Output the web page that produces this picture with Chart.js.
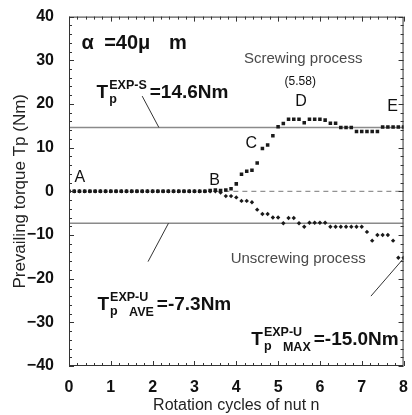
<!DOCTYPE html>
<html lang="en">
<head>
    <meta charset="UTF-8">
    <title>Prevailing torque vs rotation cycles</title>
    <script src="https://cdn.jsdelivr.net/npm/chart.js"></script>
    <style>
        html, body { margin: 0; padding: 0; background: #ffffff; }
        #wrap { width: 412px; height: 415px; }
    </style>
</head>
<body>
<div id="wrap"><canvas id="torqueChart" width="412" height="415"></canvas></div>
<script>
    // Rotation cycles of nut n (one reading every 1/8 turn)
    const rotation = [
        0, 0.125, 0.25, 0.375, 0.5, 0.625, 0.75, 0.875,
        1, 1.125, 1.25, 1.375, 1.5, 1.625, 1.75, 1.875,
        2, 2.125, 2.25, 2.375, 2.5, 2.625, 2.75, 2.875,
        3, 3.125, 3.25, 3.375, 3.5, 3.625, 3.75, 3.875,
        4, 4.125, 4.25, 4.375, 4.5, 4.625, 4.75, 4.875,
        5, 5.125, 5.25, 5.375, 5.5, 5.625, 5.75, 5.875,
        6, 6.125, 6.25, 6.375, 6.5, 6.625, 6.75, 6.875,
        7, 7.125, 7.25, 7.375, 7.5, 7.625, 7.75, 7.875,
        8
    ];
    // Prevailing torque Tp (Nm), screwing process
    const screwingTorque = [
        0, 0, 0, 0, 0, 0, 0, 0,
        0, 0, 0, 0, 0, 0, 0, 0,
        0, 0, 0, 0, 0, 0, 0, 0,
        0, 0, 0, 0.2, 0.3, 0.2, 0.3, 0.6,
        1.7, 3.9, 4.6, 4.8, 6.5, 9.8, 10.6, 12.7,
        14.8, 15.5, 16.5, 16.5, 16.5, 15.7, 16.5, 16.5,
        16.5, 16.3, 15.6, 15.6, 14.6, 14.6, 14.6, 13.7,
        13.7, 13.7, 13.7, 13.7, 14.7, 14.7, 14.7, 14.7,
        14.7
    ];
    // Prevailing torque Tp (Nm), unscrewing process
    const unscrewingTorque = [
        0, 0, 0, 0, 0, 0, 0, 0,
        0, 0, 0, 0, 0, 0, 0, 0,
        0, 0, 0, 0, 0, 0, 0, 0,
        0, 0, 0, 0, 0, -0.3, -1.1, -1.1,
        -1.4, -2.2, -2.2, -2.5, -4.2, -5.2, -5.2, -6.0,
        -6.0, -7.3, -6.1, -6.1, -7.3, -8.1, -7.2, -7.2,
        -7.2, -7.2, -8.1, -8.1, -8.1, -8.1, -8.1, -8.1,
        -8.1, -9.3, -11.3, -10.0, -10.0, -10.0, -11.3, -15.2,
        -15.2
    ];
    const screwingLevel = 14.6;     // T_p^EXP-S
    const unscrewingAverage = -7.3; // T_p^EXP-U AVE
    const xRange = [0, 8];
    const yRange = [-40, 40];

    const FONT = '"Liberation Sans", Arial, sans-serif';

    function toPoints(xs, ys) {
        return xs.map((x, i) => ({ x: x, y: ys[i] }));
    }

    // frame with inward tick marks on all four sides
    const framePlugin = {
        id: 'frame',
        afterDatasetsDraw(chart) {
            const ctx = chart.ctx;
            const a = chart.chartArea;
            const xs = chart.scales.x, ys = chart.scales.y;
            ctx.save();
            ctx.strokeStyle = '#333';
            ctx.lineWidth = 1;
            ctx.strokeRect(a.left + 0.5, a.top + 0.5, a.right - a.left - 1, a.bottom - a.top - 1);
            ctx.beginPath();
            for (let i = 0; i <= 40; i++) {
                const px = Math.round(xs.getPixelForValue(i * 0.2)) + 0.5;
                const len = i % 5 === 0 ? 5 : 3;
                ctx.moveTo(px, a.bottom); ctx.lineTo(px, a.bottom - len);
                ctx.moveTo(px, a.top); ctx.lineTo(px, a.top + len);
            }
            for (let j = 0; j <= 40; j++) {
                const py = Math.round(ys.getPixelForValue(-40 + j * 2)) + 0.5;
                const len = j % 5 === 0 ? 5 : 3;
                ctx.moveTo(a.left, py); ctx.lineTo(a.left + len, py);
                ctx.moveTo(a.right, py); ctx.lineTo(a.right - len, py);
            }
            ctx.stroke();
            ctx.restore();
        }
    };

    function torqueLabel(ctx, x, y, sup, sub2, rest) {
        const big = 'bold 19px ' + FONT, small = 'bold 12.5px ' + FONT;
        ctx.font = big;
        ctx.fillText('T', x, y);
        const cx = x + ctx.measureText('T').width + 1;
        ctx.font = small;
        ctx.fillText(sup, cx, y - 9);
        ctx.fillText('p', cx, y + 5);
        let end = cx + ctx.measureText(sup).width;
        if (sub2) {
            const sx = cx + 19;
            ctx.fillText(sub2, sx, y + 6);
            end = Math.max(end, sx + ctx.measureText(sub2).width);
        }
        ctx.font = big;
        ctx.fillText(rest, end + 3, y);
    }

    const labelPlugin = {
        id: 'labels',
        afterDatasetsDraw(chart) {
            const ctx = chart.ctx;
            const X = v => chart.scales.x.getPixelForValue(v);
            const Y = v => chart.scales.y.getPixelForValue(v);
            ctx.save();
            ctx.fillStyle = '#111';
            ctx.textAlign = 'left';
            ctx.textBaseline = 'middle';
            ctx.font = 'bold 20px ' + FONT;
            // wide spacing as in the original (full-width glyphs)
            ctx.fillText('α', X(0.3), Y(33.8));
            ctx.fillText('=40μ', X(0.84), Y(33.8));
            ctx.fillText('m', X(2.39), Y(33.8));

            ctx.textAlign = 'center';
            ctx.font = '15px ' + FONT;
            ctx.fillStyle = '#4a4a4a';
            ctx.fillText('Screwing process', X(5.6), Y(30.4));
            ctx.fillText('Unscrewing process', X(5.48), Y(-15.4));
            ctx.fillStyle = '#111';
            ctx.font = '12px ' + FONT;
            ctx.fillText('(5.58)', X(5.53), Y(25.2));

            ctx.font = '16px ' + FONT;
            [['A', 0.26, 3.1], ['B', 3.48, 2.4], ['C', 4.36, 11.0], ['D', 5.55, 20.6], ['E', 7.74, 19.5]]
                .forEach(p => ctx.fillText(p[0], X(p[1]), Y(p[2])));

            // leader lines
            ctx.strokeStyle = '#333';
            ctx.lineWidth = 1;
            ctx.beginPath();
            [[1.75, 21.8, 2.15, screwingLevel], [2.38, unscrewingAverage, 1.89, -16.1], [7.98, -15.6, 7.22, -24.0]]
                .forEach(l => { ctx.moveTo(X(l[0]), Y(l[1])); ctx.lineTo(X(l[2]), Y(l[3])); });
            ctx.stroke();

            ctx.textAlign = 'left';
            ctx.textBaseline = 'alphabetic';
            torqueLabel(ctx, X(0.66), Y(21.3), 'EXP-S', null, '=14.6Nm');
            torqueLabel(ctx, X(0.68), Y(-27.2), 'EXP-U', 'AVE', '=-7.3Nm');
            torqueLabel(ctx, X(4.36), Y(-35.2), 'EXP-U', 'MAX', '=-15.0Nm');
            ctx.restore();
        }
    };

    const ctx = document.getElementById('torqueChart').getContext('2d');
    const torqueChart = new Chart(ctx, {
        type: 'scatter',
        data: {
            datasets: [
                {
                    label: 'Screwing process',
                    data: toPoints(rotation, screwingTorque),
                    pointStyle: 'rect',
                    pointRadius: 2.5,
                    backgroundColor: '#1a1a1a',
                    borderWidth: 0
                },
                {
                    label: 'Unscrewing process',
                    data: toPoints(rotation, unscrewingTorque),
                    pointStyle: 'rectRot',
                    pointRadius: 2.2,
                    backgroundColor: '#1a1a1a',
                    borderWidth: 0
                },
                {
                    type: 'line',
                    data: toPoints(xRange, [screwingLevel, screwingLevel]),
                    borderColor: '#8a8a8a',
                    borderWidth: 1.5,
                    pointRadius: 0
                },
                {
                    type: 'line',
                    data: toPoints(xRange, [unscrewingAverage, unscrewingAverage]),
                    borderColor: '#8a8a8a',
                    borderWidth: 1.5,
                    pointRadius: 0
                },
                {
                    type: 'line',
                    data: toPoints([3.5, 8], [0, 0]),
                    borderColor: '#777',
                    borderWidth: 1,
                    borderDash: [5, 4],
                    pointRadius: 0
                }
            ]
        },
        options: {
            responsive: false,
            animation: false,
            devicePixelRatio: 1,
            layout: { padding: { top: 15, right: 6, left: 0, bottom: 0 } },
            plugins: {
                legend: { display: false },
                tooltip: { enabled: false }
            },
            scales: {
                x: {
                    type: 'linear',
                    min: xRange[0],
                    max: xRange[1],
                    grid: { display: false },
                    border: { display: false },
                    ticks: {
                        stepSize: 1,
                        padding: 4,
                        color: '#111',
                        font: { family: FONT, size: 16, weight: 'bold' }
                    },
                    title: {
                        display: true,
                        text: 'Rotation cycles of nut n',
                        color: '#222',
                        font: { family: FONT, size: 16 },
                        padding: { top: 0, bottom: 0 }
                    },
                    afterFit(scale) { scale.height = 49; }
                },
                y: {
                    min: yRange[0],
                    max: yRange[1],
                    grid: { display: false },
                    border: { display: false },
                    ticks: {
                        stepSize: 10,
                        padding: 7,
                        color: '#111',
                        font: { family: FONT, size: 16, weight: 'bold' },
                        callback: v => (v < 0 ? '\u2212' + Math.abs(v) : v)
                    },
                    title: {
                        display: true,
                        text: 'Prevailing torque Tp (Nm)',
                        color: '#222',
                        font: { family: FONT, size: 17 },
                        padding: { top: 10, bottom: 0 }
                    },
                    afterFit(scale) { scale.width = 69; }
                }
            }
        },
        plugins: [framePlugin, labelPlugin]
    });
</script>
</body>
</html>
